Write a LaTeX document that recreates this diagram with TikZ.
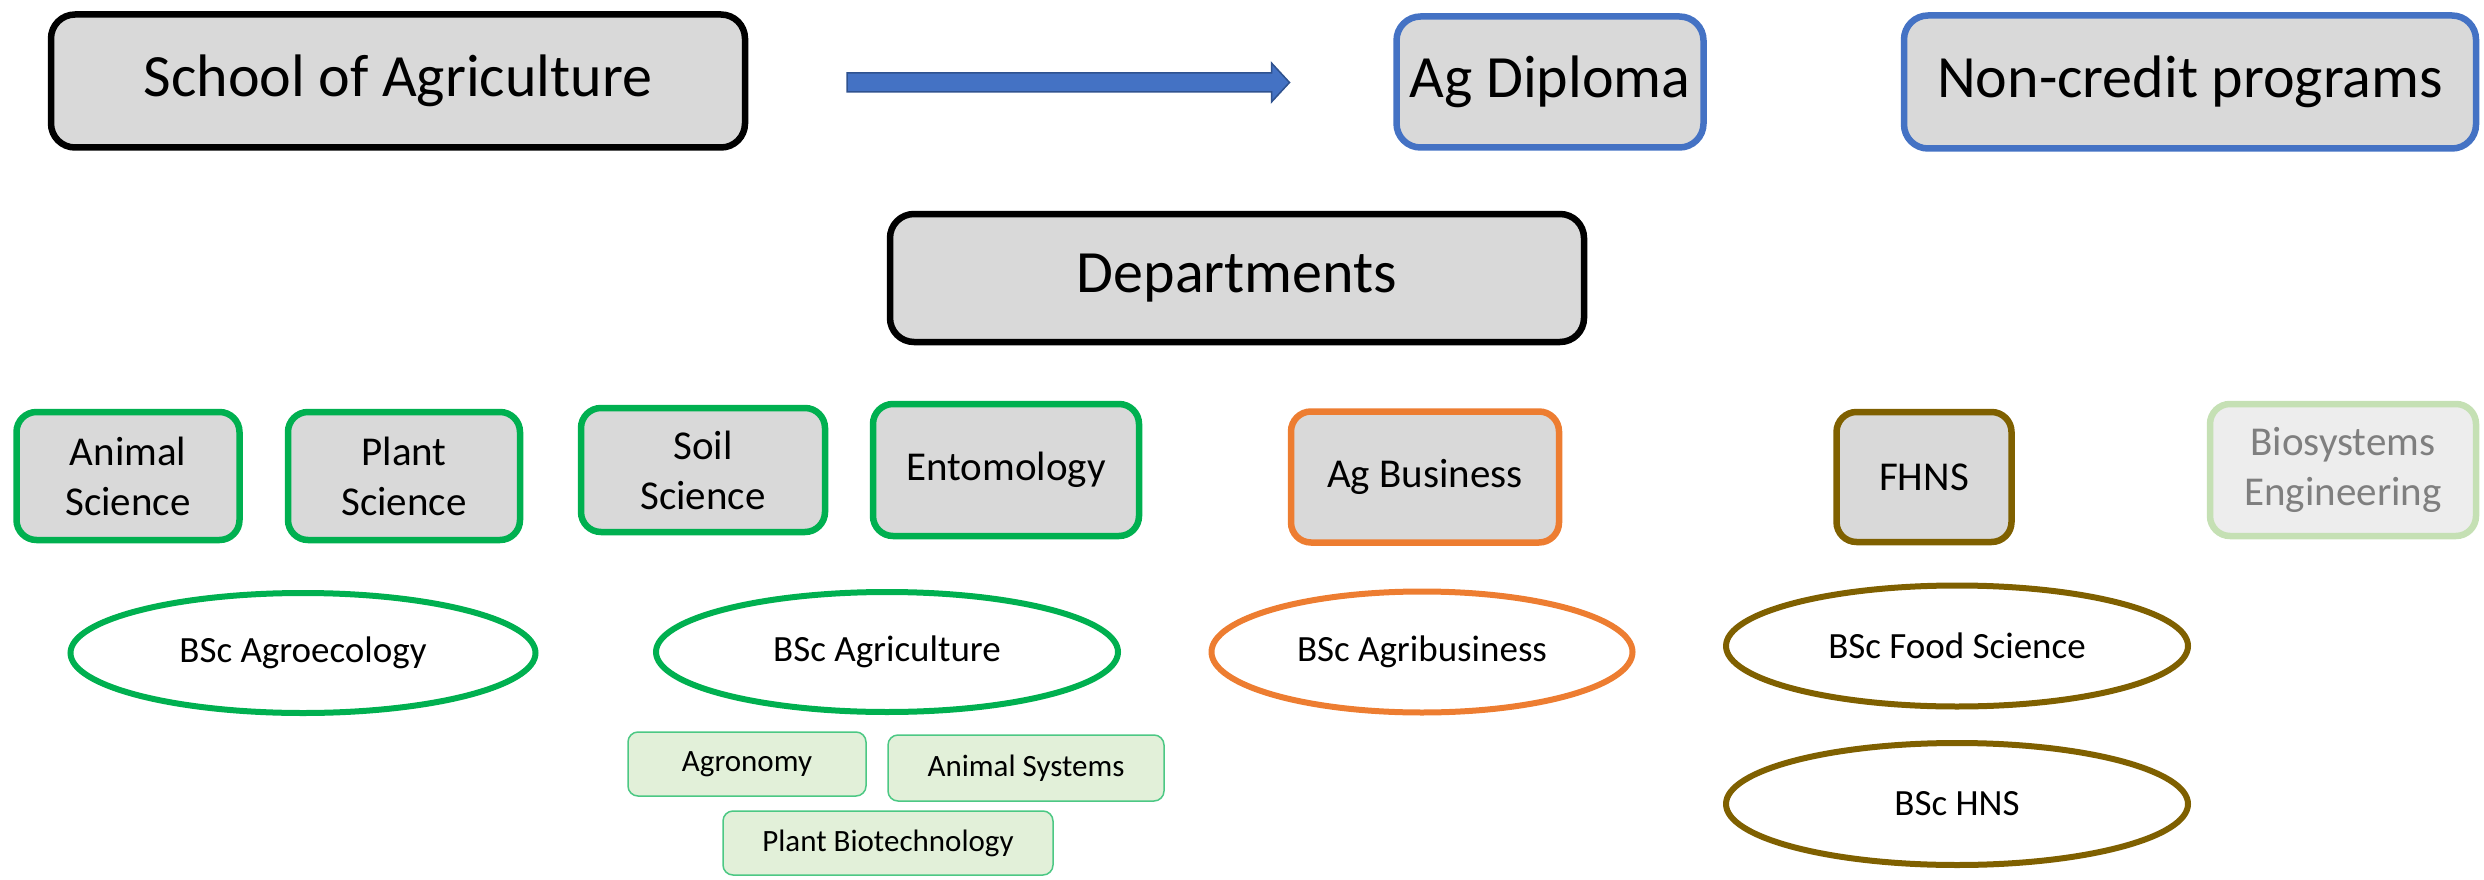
\documentclass[tikz,border=0pt]{standalone}
\usepackage{fontspec}
\setmainfont{Carlito}
\usepackage{tikz}
\usetikzlibrary{calc, positioning, shapes.geometric}
\usepackage{xcolor}
\definecolor{BoxGray}{HTML}{D9D9D9}
\definecolor{AgBlue}{HTML}{4472C4}
\definecolor{ArrowEdge}{HTML}{2F528F}
\definecolor{AgGreen}{HTML}{00B050}
\definecolor{AgOrange}{HTML}{ED7D31}
\definecolor{AgBrown}{HTML}{7F6000}
\definecolor{FadedGreen}{HTML}{C5E0B4}
\definecolor{FadedGray}{HTML}{EDEDED}
\definecolor{FadedText}{HTML}{7F7F7F}
\definecolor{LiteGreen}{HTML}{E2F0D9}
\tikzset{%
  base_block/.style={%
    rectangle,%
    draw,%
    fill=BoxGray,%
    outer sep=0pt,%
    inner sep=0pt,%
    align=center,%
  },
  top_block/.style={%
    base_block,%
    line width=6.5pt,%
    rounded corners=24pt,%
    minimum height=133,%
    font={\fontsize{60}{72}\selectfont},%
  },
  dept_block/.style={%
    base_block,%
    line width=6.5pt,%
    rounded corners=20pt,%
    minimum height=128,%
    font={\fontsize{41}{50}\selectfont},%
  },
  prog_ellipse/.style={%
    ellipse,%
    draw,%
    line width=6pt,%
    outer sep=0pt,%
    inner sep=0pt,%
    minimum height=120,%
    font={\fontsize{37}{44}\selectfont},%
  },
  track_block/.style={%
    rectangle,%
    draw=AgGreen!70,%
    fill=LiteGreen,%
    line width=1.5pt,%
    rounded corners=10pt,%
    outer sep=0pt,%
    inner sep=0pt,%
    minimum height=64,%
    font={\fontsize{31}{37}\selectfont},%
  },
  block_arrow/.style={%
    draw=ArrowEdge,%
    fill=AgBlue,%
    line width=1.5pt,%
    line join=miter,%
  },
}

\begin{document}
\begin{tikzpicture}[x=1pt, y=1pt]
  \useasboundingbox (0,0) rectangle (2484,-880);

  % top row
  \node [top_block, draw=black, minimum width=694] (School) at (398,-81) {School of Agriculture};
  \node [top_block, draw=AgBlue, minimum width=307, minimum height=131] (Diploma) at (1550,-82) {Ag Diploma};
  \node [top_block, draw=AgBlue, minimum width=572, right = 200.5 of Diploma] (NonCredit) {Non-credit programs};
  \node [top_block, draw=black, minimum width=694, minimum height=128] (Departments) at (1237,-278) {Departments};

  \coordinate (arrow_tail) at ($(School.east)+(102,-1.5)$);
  \coordinate (arrow_tip) at ($(arrow_tail -| Diploma.west)+(-107,0)$);
  \draw [block_arrow]
    ($(arrow_tail)+(0,9.5)$)
    --
    ($(arrow_tip)+(-18,9.5)$)
    --
    ($(arrow_tip)+(-18,19.5)$)
    --
    (arrow_tip)
    --
    ($(arrow_tip)+(-18,-19.5)$)
    --
    ($(arrow_tip)+(-18,-9.5)$)
    --
    ($(arrow_tail)+(0,-9.5)$)
    --
    cycle;

  % departments
  \node [dept_block, draw=AgGreen, minimum width=223] (AnimalSci) at (128,-476) {Animal\\Science};
  \node [dept_block, draw=AgGreen, minimum width=232, right = 48.5 of AnimalSci] (PlantSci) {Plant\\Science};
  \node [dept_block, draw=AgGreen, minimum width=244, minimum height=124] (SoilSci) at (703,-470) {Soil\\Science};
  \node [dept_block, draw=AgGreen, minimum width=266, minimum height=132, right = 48 of SoilSci] (Entomology) {Entomology};
  \node [dept_block, draw=AgOrange, minimum width=268, minimum height=131] (AgBusiness) at (1425,-477) {Ag Business};
  \node [dept_block, draw=AgBrown, minimum width=175, minimum height=130, right = 277.5 of AgBusiness] (FHNS) {FHNS};
  \node [dept_block, draw=FadedGreen, fill=FadedGray, text=FadedText, minimum width=266, minimum height=132] (Biosystems) at (2343,-470) {Biosystems\\Engineering};

  % degree programs
  \node [prog_ellipse, draw=AgGreen, minimum width=465] (Agroecology) at (303,-653) {BSc Agroecology};
  \node [prog_ellipse, draw=AgGreen, minimum width=462] (Agriculture) at (887,-652) {BSc Agriculture};
  \node [prog_ellipse, draw=AgOrange, minimum width=421, minimum height=121] (Agribusiness) at (1422,-652) {BSc Agribusiness};
  \node [prog_ellipse, draw=AgBrown, minimum width=462, minimum height=121] (FoodSci) at (1957,-646) {BSc Food Science};
  \node [prog_ellipse, draw=AgBrown, minimum width=462, minimum height=122, below = 36.5 of FoodSci] (HNS) {BSc HNS};

  % agriculture majors
  \node [track_block, minimum width=238] (Agronomy) at (747,-764) {Agronomy};
  \node [track_block, minimum width=276, minimum height=66] (AnimalSys) at (1026,-768) {Animal Systems};
  \node [track_block, minimum width=330] (PlantBiotech) at (888,-843) {Plant Biotechnology};
\end{tikzpicture}
\end{document}
